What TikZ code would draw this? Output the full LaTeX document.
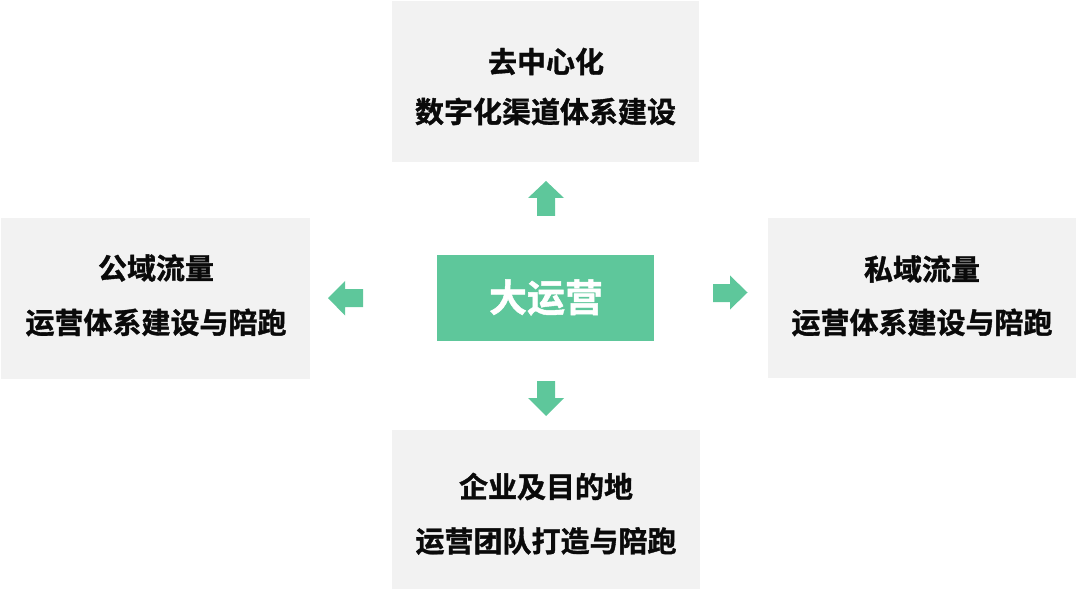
\documentclass[tikz,border=0pt]{standalone}
\usepackage{fontspec}
\setmainfont{Noto Sans CJK SC}[BoldFont={Noto Sans CJK SC Bold},BoldFeatures={FakeBold=1.2}]
\definecolor{boxgray}{RGB}{242,242,242}
\definecolor{mygreen}{RGB}{94,199,155}
\definecolor{txt}{RGB}{10,10,10}
\tikzset{
  graybox/.style={fill=boxgray, draw=none, inner sep=0pt},
  greenbox/.style={fill=mygreen, draw=none, inner sep=0pt},
  label/.style={inner sep=0pt, text=txt, font=\fontsize{29bp}{34bp}\selectfont\bfseries},
  biglabel/.style={inner sep=0pt, text=white, font=\fontsize{38bp}{44bp}\selectfont\bfseries},
  arrowfill/.style={fill=mygreen, draw=none}
}
\begin{document}
\begin{tikzpicture}[x=1bp,y=-1bp]
\useasboundingbox (0,0) rectangle (1078,593);
% boxes
\node[graybox, minimum width=307bp, minimum height=161.5bp] (topbox) at (545.5,81.75) {};
\node[graybox, minimum width=309bp, minimum height=160.5bp] (leftbox) at (155.5,298.25) {};
\node[graybox, minimum width=308.5bp, minimum height=160bp] (rightbox) at (921.75,298.3) {};
\node[graybox, minimum width=308bp, minimum height=159bp] (bottombox) at (546,509.5) {};
\node[greenbox, minimum width=216.5bp, minimum height=86bp] (center) at (545.25,298) {};
% texts
\node[label] (t1) at (546,61.5) {去中心化};
\node[label] (t2) at (545.5,111.5) {数字化渠道体系建设};
\node[label] (l1) at (156,268) {公域流量};
\node[label] (l2) at (156,322.5) {运营体系建设与陪跑};
\node[label] (r1) at (922,269) {私域流量};
\node[label] (r2) at (922,322.5) {运营体系建设与陪跑};
\node[label] (b1) at (546,486.5) {企业及目的地};
\node[label] (b2) at (546,541) {运营团队打造与陪跑};
\node[biglabel] (c1) at (546,297.5) {大运营};
% block arrows
\fill[arrowfill] (546,181) -- (564,198) -- (555,198) -- (555,216) -- (537,216) -- (537,198) -- (528,198) -- cycle;
\fill[arrowfill] (537,381) -- (555,381) -- (555,398) -- (564,398) -- (546,416) -- (528,398) -- (537,398) -- cycle;
\fill[arrowfill] (328,298) -- (345,281) -- (345,289) -- (363,289) -- (363,307) -- (345,307) -- (345,315.5) -- cycle;
\fill[arrowfill] (713,284) -- (730,284) -- (730,275.5) -- (747.5,292.5) -- (730,309.5) -- (730,302) -- (713,302) -- cycle;
\end{tikzpicture}
\end{document}
